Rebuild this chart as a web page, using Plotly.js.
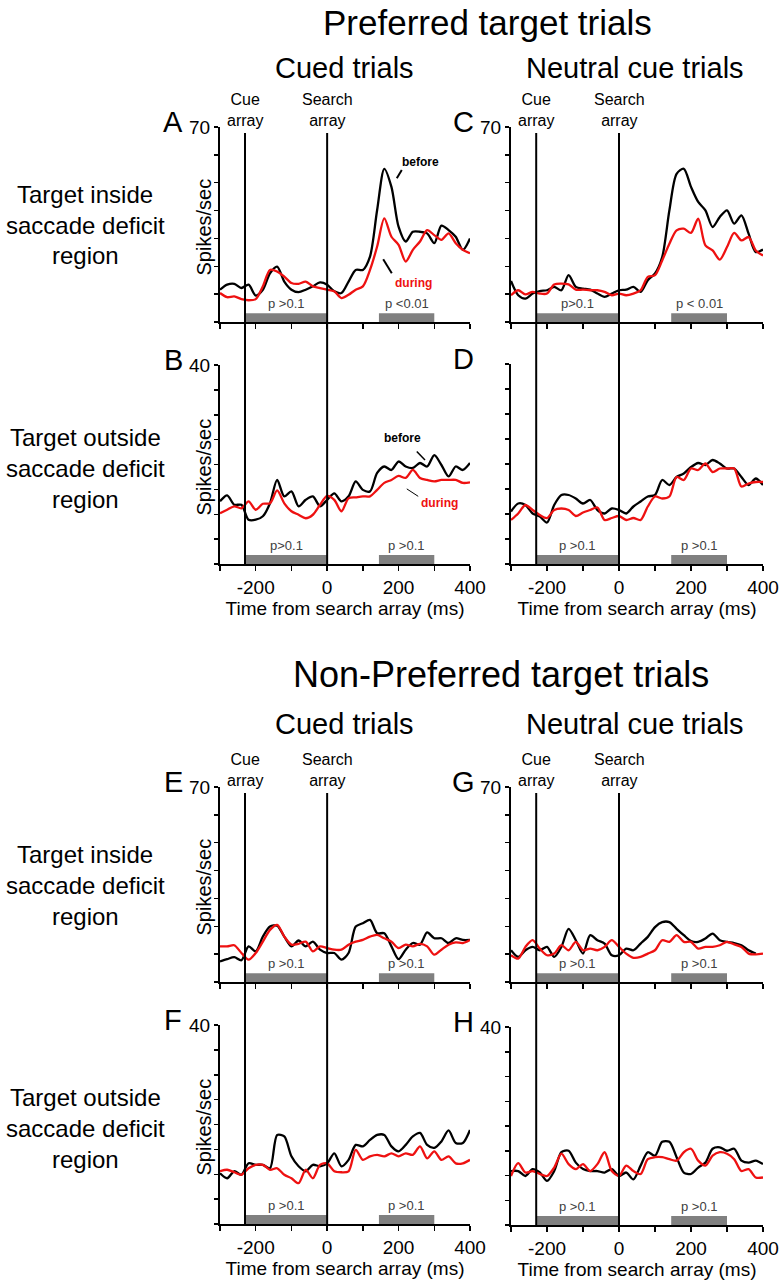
<!DOCTYPE html>
<html>
<head>
<meta charset="utf-8">
<script src="https://cdn.plot.ly/plotly-3.0.1.min.js"></script>
<style>
  body { margin: 0; background: white; }
  #plot { width: 781px; height: 1280px; }
</style>
</head>
<body>
<div id="plot"></div>
<script>
// Time from search array (ms), one sample every 20 ms
var time = [-300, -280, -260, -240, -220, -200, -180, -160, -140, -120, -100, -80,
            -60, -40, -20, 0, 20, 40, 60, 80, 100, 120, 140, 160,
            180, 200, 220, 240, 260, 280, 300, 320, 340, 360, 380, 400];

// Preferred target, cued trials, target inside deficit region (A)
var aBefore = [11.6, 13.4, 13.7, 12.2, 13.4, 9.5, 11.6, 17.5, 19.9, 14.5, 11.6, 10.7,
               11.6, 12.8, 14.2, 13.4, 11.0, 10.4, 14.5, 18.7, 18.7, 23.5, 40.2, 55.0,
               48.5, 34.2, 28.9, 32.4, 32.4, 31.8, 28.3, 34.6, 33.0, 30.6, 25.9, 30.0];
var aDuring = [10.4, 8.9, 9.2, 8.2, 7.8, 8.2, 12.8, 18.7, 18.1, 16.3, 14.0, 13.7,
               14.5, 12.8, 12.2, 11.6, 11.0, 8.6, 9.8, 11.6, 12.8, 18.7, 27.1, 37.2,
               30.6, 27.7, 21.7, 25.9, 28.9, 33.0, 31.2, 29.5, 31.8, 28.3, 25.9, 24.7];
// (B) cued, target outside
var bBefore = [12.6, 13.8, 11.9, 11.9, 8.9, 8.9, 9.6, 12.2, 16.9, 13.6, 14.6, 11.6,
               12.9, 13.6, 11.6, 12.9, 14.2, 12.6, 13.6, 16.6, 14.9, 14.6, 18.3, 19.6,
               18.9, 20.6, 19.6, 19.3, 20.3, 19.6, 21.9, 19.9, 17.6, 19.6, 18.9, 20.3];
var bDuring = [10.2, 10.9, 11.6, 11.2, 12.6, 10.9, 12.1, 12.2, 14.8, 12.2, 10.6, 9.9,
               9.2, 9.9, 11.9, 13.7, 12.9, 10.6, 13.2, 13.4, 13.6, 13.6, 14.9, 16.3,
               16.9, 17.7, 17.3, 18.9, 17.3, 16.9, 16.6, 16.9, 16.9, 16.9, 16.3, 16.4];
// (C) neutral cue, target inside
var cBefore = [14.7, 9.6, 8.4, 10.2, 11.1, 11.4, 12.6, 11.4, 16.8, 12.6, 12.0, 11.6,
               10.2, 9.0, 10.2, 11.4, 11.6, 12.6, 10.8, 15.0, 17.4, 23.3, 40.1, 53.2,
               55.0, 48.5, 43.1, 40.1, 34.1, 37.7, 40.1, 35.3, 38.3, 31.7, 25.1, 26.0];
var cDuring = [9.6, 11.4, 9.9, 10.8, 10.2, 10.2, 13.5, 13.8, 13.5, 11.6, 11.6, 11.4,
               11.4, 10.8, 9.6, 10.2, 9.6, 10.2, 11.4, 16.2, 16.8, 22.1, 28.1, 32.9,
               33.5, 32.0, 37.1, 27.5, 25.7, 22.4, 26.9, 32.0, 29.3, 30.5, 25.7, 23.9];
// (D) neutral cue, target outside
var dBefore = [10.5, 12.1, 11.8, 10.1, 9.5, 8.3, 11.8, 13.8, 13.8, 13.1, 12.1, 12.8,
               10.8, 10.1, 11.1, 10.8, 10.1, 11.5, 12.5, 13.5, 13.8, 16.8, 15.8, 17.4,
               18.1, 19.4, 20.2, 19.8, 20.8, 20.1, 19.1, 19.1, 17.4, 15.8, 17.1, 15.8];
var dDuring = [8.8, 10.1, 11.8, 10.8, 9.8, 9.2, 10.8, 11.1, 10.8, 9.6, 10.3, 10.8,
               11.3, 8.8, 9.2, 9.6, 8.8, 9.2, 8.8, 11.5, 13.5, 13.1, 13.5, 17.4,
               16.8, 19.1, 18.8, 20.1, 18.4, 19.1, 19.1, 19.1, 15.5, 16.1, 16.4, 16.4];

// Non-preferred target: (E) cued, inside
var eBefore = [7.4, 8.2, 8.9, 7.8, 12.8, 11.0, 16.3, 19.9, 20.2, 16.3, 12.8, 14.9,
               12.8, 14.5, 11.6, 10.4, 10.4, 8.0, 10.4, 19.9, 21.1, 22.3, 17.5, 17.5,
               12.8, 8.2, 11.6, 14.0, 13.4, 17.8, 15.7, 15.7, 14.0, 15.7, 15.1, 15.1];
var eDuring = [12.8, 12.8, 13.2, 10.4, 8.0, 10.4, 14.5, 18.7, 20.5, 16.3, 13.4, 13.7,
               14.5, 11.0, 12.8, 12.2, 11.6, 11.6, 13.4, 14.5, 15.1, 16.3, 16.9, 15.7,
               14.5, 12.2, 13.4, 12.8, 13.7, 12.8, 9.8, 11.6, 13.4, 14.2, 14.0, 15.1];
// (F) cued, outside
var fBefore = [10.2, 9.2, 10.6, 9.9, 12.2, 11.9, 11.9, 11.2, 17.9, 17.6, 13.6, 11.6,
               10.6, 11.9, 11.6, 12.2, 14.2, 11.6, 12.9, 15.9, 15.6, 16.9, 17.9, 17.9,
               15.6, 14.6, 15.9, 17.6, 18.3, 15.9, 15.3, 16.6, 18.8, 16.3, 16.3, 18.9];
var fDuring = [10.6, 10.9, 10.4, 9.9, 11.2, 11.9, 11.9, 10.9, 11.2, 9.9, 9.2, 8.2,
               10.9, 9.2, 11.9, 12.2, 10.6, 10.4, 10.6, 14.9, 12.9, 13.6, 13.9, 13.6,
               14.2, 13.6, 14.2, 13.9, 15.6, 13.2, 14.6, 12.9, 13.6, 12.2, 12.2, 12.9];
// (G) neutral cue, inside
var gBefore = [11.4, 9.0, 11.4, 12.6, 11.4, 12.6, 9.0, 12.6, 19.1, 15.0, 10.2, 16.8,
               15.0, 13.8, 9.6, 9.6, 12.0, 11.4, 13.8, 16.2, 19.7, 21.5, 21.5, 19.1,
               16.8, 14.7, 14.4, 15.6, 17.4, 15.0, 14.4, 14.0, 13.2, 11.4, 10.2, null];
var gDuring = [9.6, 8.4, 12.6, 15.0, 12.0, 9.6, 10.2, 13.2, 11.4, 14.4, 11.4, 12.0,
               11.4, 12.6, 15.0, 12.6, 10.2, 8.7, 9.0, 10.2, 11.4, 15.0, 14.4, 16.8,
               14.4, 14.4, 12.0, 12.6, 12.6, 13.2, 14.4, 13.5, 12.6, 10.2, 9.9, 10.2];
// (H) neutral cue, outside
var hBefore = [10.9, 10.9, 9.9, 11.3, 10.6, 8.9, 10.9, 14.7, 15.0, 12.6, 11.3, 10.9,
               10.9, 10.6, 11.3, 9.9, 10.6, 9.2, 12.0, 14.7, 14.0, 16.8, 16.8, 13.7,
               10.6, 10.3, 11.6, 12.6, 15.4, 15.7, 15.0, 15.4, 13.0, 12.6, 13.0, 12.3];
var hDuring = [9.9, 12.5, 10.6, 10.9, 10.3, 9.9, 11.6, 14.4, 12.3, 11.3, 12.3, 10.9,
               12.3, 14.7, 10.9, 9.9, 12.0, 10.9, 10.3, 13.3, 13.7, 13.7, 13.3, 13.0,
               14.7, 15.4, 13.0, 12.0, 14.0, 14.7, 14.4, 13.3, 10.9, 11.3, 9.6, 9.6];

// Event times and test windows
var cueTime = -230;
var searchTime = 0;
var win1 = [-230, 0];
var win2 = [145, 300];

// x tick labels
var xTicks = [-300, -200, -100, 0, 100, 200, 300, 400];
var xTickText = ['', '-200', '', '0', '', '200', '', '400'];

var W = 781, H = 1280;
function px(x) { return x / W; }
function py(y) { return 1 - y / H; }

// panel boxes in page pixels: [left, right], [top, bottom]
var panels = [
  {letter: 'A', before: aBefore, during: aDuring, ymax: 70, dt: 10, top: '70', xd: [220, 470], yd: [127, 322], xlab: false, p: ['p >0.1', 'p <0.01']},
  {letter: 'B', before: bBefore, during: bDuring, ymax: 40, dt: 5,  top: '40', xd: [220, 470], yd: [365, 564], xlab: true,  p: ['p>0.1', 'p >0.1']},
  {letter: 'C', before: cBefore, during: cDuring, ymax: 70, dt: 10, top: '70', xd: [511, 763], yd: [127, 322], xlab: false, p: ['p>0.1', 'p < 0.01']},
  {letter: 'D', before: dBefore, during: dDuring, ymax: 40, dt: 5,  top: '',   xd: [511, 763], yd: [364, 564], xlab: true,  p: ['p >0.1', 'p >0.1']},
  {letter: 'E', before: eBefore, during: eDuring, ymax: 70, dt: 10, top: '70', xd: [220, 470], yd: [787, 982], xlab: false, p: ['p >0.1', 'p >0.1']},
  {letter: 'F', before: fBefore, during: fDuring, ymax: 40, dt: 5,  top: '40', xd: [220, 470], yd: [1025, 1224], xlab: true, p: ['p >0.1', 'p >0.1']},
  {letter: 'G', before: gBefore, during: gDuring, ymax: 70, dt: 10, top: '70', xd: [511, 763], yd: [787, 982], xlab: false, p: ['p >0.1', 'p >0.1']},
  {letter: 'H', before: hBefore, during: hDuring, ymax: 40, dt: 5,  top: '40', xd: [511, 763], yd: [1027, 1225], xlab: true, p: ['p >0.1', 'p >0.1']}
];

var FONT = 'Arial, "Liberation Sans", sans-serif';
var data = [];
var layout = {
  width: W, height: H,
  margin: {l: 0, r: 0, t: 0, b: 0},
  paper_bgcolor: 'white', plot_bgcolor: 'white',
  showlegend: false,
  font: {family: FONT, color: 'black'},
  shapes: [], annotations: []
};

panels.forEach(function (p, i) {
  var s = i === 0 ? '' : String(i + 1);
  var yv = [], yt = [];
  for (var v = 0; v <= p.ymax; v += p.dt) { yv.push(v); yt.push(v === p.ymax ? p.top : ''); }

  layout['xaxis' + s] = {
    domain: [px(p.xd[0]), px(p.xd[1])], range: [-300, 400], anchor: 'y' + s,
    showline: true, linewidth: 2, linecolor: 'black', mirror: false,
    ticks: 'outside', ticklen: 5, tickwidth: 1.5, tickcolor: 'black',
    tickvals: xTicks, ticktext: p.xlab ? xTickText : ['', '', '', '', '', '', '', ''],
    tickfont: {size: 19}, showgrid: false, zeroline: false, fixedrange: true,
    title: p.xlab ? {text: 'Time from search array (ms)', font: {size: 19}, standoff: 2} : {text: ''}
  };
  layout['yaxis' + s] = {
    domain: [py(p.yd[1]), py(p.yd[0])], range: [0, p.ymax], anchor: 'x' + s,
    showline: true, linewidth: 2, linecolor: 'black',
    ticks: 'outside', ticklen: 4, tickwidth: 1.5, tickcolor: 'black',
    tickvals: yv, ticktext: yt, tickfont: {size: 19},
    showgrid: false, zeroline: false, fixedrange: true
  };

  data.push({x: time, y: p.before, xaxis: 'x' + s, yaxis: 'y' + s, mode: 'lines',
             line: {color: 'black', width: 2.3, shape: 'spline', smoothing: 0.8}, connectgaps: false});
  data.push({x: time, y: p.during, xaxis: 'x' + s, yaxis: 'y' + s, mode: 'lines',
             line: {color: '#ee1111', width: 2.3, shape: 'spline', smoothing: 0.8}});

  // grey test-window bars on the x axis
  [win1, win2].forEach(function (w, k) {
    layout.shapes.push({type: 'rect', xref: 'x' + s, yref: 'y' + s + ' domain',
      x0: w[0], x1: w[1], y0: 0, y1: 0.045, fillcolor: '#808080', line: {width: 0}});
    layout.annotations.push({xref: 'x' + s, yref: 'y' + s + ' domain', x: (w[0] + w[1]) / 2, y: 0.045,
      yanchor: 'bottom', xanchor: 'center', showarrow: false, text: p.p[k],
      font: {size: 13, color: '#404040'}});
  });

  // panel letter
  var lx = p.xd[0] < 300 ? 173 : 463;
  layout.annotations.push({xref: 'paper', yref: 'paper', x: px(lx), y: py(p.yd[0] - 5),
    text: p.letter, showarrow: false, font: {size: 29}, xanchor: 'center', yanchor: 'middle'});

  // y axis title on the left column
  if (p.xd[0] < 300) {
    layout.annotations.push({xref: 'paper', yref: 'paper', x: px(203), y: py((p.yd[0] + p.yd[1]) / 2 + 3),
      text: 'Spikes/sec', textangle: -90, showarrow: false, font: {size: 20}, xanchor: 'center', yanchor: 'middle'});
  }
});

// Cue / search onset lines run through both rows of each column
var lineSpans = [['x', 133, 564], ['x3', 133, 564], ['x5', 793, 1224], ['x7', 793, 1225]];
lineSpans.forEach(function (ls) {
  [cueTime, searchTime].forEach(function (t) {
    layout.shapes.push({type: 'line', xref: ls[0], yref: 'paper', x0: t, x1: t,
      y0: py(ls[2]), y1: py(ls[1]), line: {color: 'black', width: 2}});
  });
  layout.annotations.push({xref: ls[0], yref: 'paper', x: cueTime, y: py(ls[1] - 23),
    text: 'Cue<br>array', showarrow: false, font: {size: 16}, xanchor: 'center', yanchor: 'middle'});
  layout.annotations.push({xref: ls[0], yref: 'paper', x: searchTime, y: py(ls[1] - 23),
    text: 'Search<br>array', showarrow: false, font: {size: 16}, xanchor: 'center', yanchor: 'middle'});
});

// before / during labels with leader lines (A and B)
layout.annotations.push({xref: 'x', yref: 'y', x: 262, y: 57.5, text: '<b>before</b>', showarrow: false, font: {size: 12, color: 'black'}});
layout.annotations.push({xref: 'x', yref: 'y', x: 242, y: 14.0, text: '<b>during</b>', showarrow: false, font: {size: 12, color: '#ee1111'}});
layout.shapes.push({type: 'line', xref: 'x', yref: 'y', x0: 195, y0: 51.6, x1: 209, y1: 54.6, line: {color: 'black', width: 2}});
layout.shapes.push({type: 'line', xref: 'x', yref: 'y', x0: 157, y0: 22.5, x1: 181, y1: 17.5, line: {color: 'black', width: 2}});
layout.annotations.push({xref: 'x2', yref: 'y2', x: 212, y: 25.4, text: '<b>before</b>', showarrow: false, font: {size: 12, color: 'black'}});
layout.annotations.push({xref: 'x2', yref: 'y2', x: 315, y: 12.3, text: '<b>during</b>', showarrow: false, font: {size: 12, color: '#ee1111'}});
layout.shapes.push({type: 'line', xref: 'x2', yref: 'y2', x0: 251, y0: 22.6, x1: 274, y1: 20.9, line: {color: 'black', width: 1.5}});
layout.shapes.push({type: 'line', xref: 'x2', yref: 'y2', x0: 223, y0: 15.1, x1: 255, y1: 13.6, line: {color: 'black', width: 1}});

// headings and row labels
var heads = [
  ['Preferred target trials', 487, 22, 35],
  ['Cued trials', 344, 68, 29],
  ['Neutral cue trials', 635, 68, 29],
  ['Non-Preferred target trials', 501, 674, 36],
  ['Cued trials', 344, 724, 29],
  ['Neutral cue trials', 635, 724, 29]
];
heads.forEach(function (h) {
  layout.annotations.push({xref: 'paper', yref: 'paper', x: px(h[1]), y: py(h[2]), text: h[0],
    showarrow: false, font: {size: h[3]}, xanchor: 'center', yanchor: 'middle'});
});

var rowLabels = [
  [['Target inside', 'saccade deficit', 'region'], 225],
  [['Target outside', 'saccade deficit', 'region'], 468],
  [['Target inside', 'saccade deficit', 'region'], 885],
  [['Target outside', 'saccade deficit', 'region'], 1128]
];
rowLabels.forEach(function (r) {
  r[0].forEach(function (line, k) {
    layout.annotations.push({xref: 'paper', yref: 'paper', x: px(85), y: py(r[1] + (k - 1) * 31),
      text: line, showarrow: false, font: {size: 24}, xanchor: 'center', yanchor: 'middle'});
  });
});

Plotly.newPlot('plot', data, layout, {staticPlot: true});
</script>
</body>
</html>
